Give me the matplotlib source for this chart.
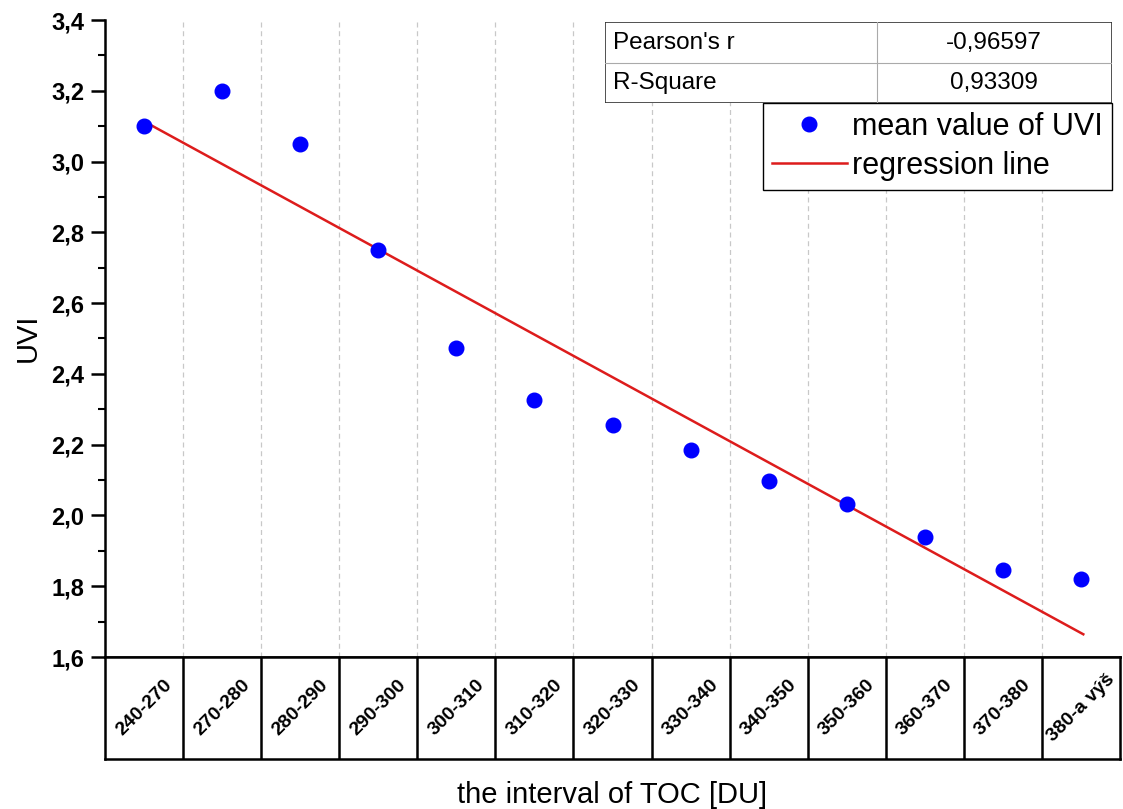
import matplotlib
matplotlib.use("Agg")
import matplotlib.pyplot as plt
import numpy as np

plt.rcParams['font.family'] = ['Liberation Sans', 'DejaVu Sans']

categories = ["240-270", "270-280", "280-290", "290-300", "300-310", "310-320",
              "320-330", "330-340", "340-350", "350-360", "360-370", "370-380",
              "380-a výš"]
uvi_mean = [3.10, 3.20, 3.05, 2.75, 2.473, 2.327, 2.256, 2.185, 2.098, 2.033,
            1.940, 1.846, 1.821]
stats_labels = ["Pearson's r", "R-Square"]
stats_values = ["-0,96597", "0,93309"]
y_ticks = [1.6, 1.8, 2.0, 2.2, 2.4, 2.6, 2.8, 3.0, 3.2, 3.4]

W, H = 1123, 809
fig = plt.figure(figsize=(W / 100, H / 100), dpi=100)

def fx(px):
    return px / W

def fy(py):
    return 1 - py / H

left, right, top, bottom = 105, 1120, 20, 657
ax = fig.add_axes([fx(left), fy(bottom), fx(right - left), fy(top) - fy(bottom)])

x = np.arange(len(categories))
coef = np.polyfit(x, uvi_mean, 1)
xr = np.array([x[0], x[-1] + 0.03])
ax.plot(xr, np.polyval(coef, xr), color='#dd1c1c', lw=1.8, zorder=3, label='regression line')
ax.plot(x, uvi_mean, 'o', color='#0000ff', ms=10.5, zorder=4, label='mean value of UVI')

ax.set_xlim(-0.5, len(categories) - 0.5)
ax.set_ylim(1.6, 3.4)
ax.set_yticks(y_ticks)
ax.set_yticklabels([f"{v:.1f}".replace('.', ',') for v in y_ticks], fontweight='bold', fontsize=17)
ax.set_yticks(np.arange(1.7, 3.4, 0.2), minor=True)
ax.tick_params(axis='y', which='major', direction='out', length=10, width=1.8, pad=5)
ax.tick_params(axis='y', which='minor', direction='out', length=5, width=1.5)
ax.set_xticks([])
for b in np.arange(0.5, len(categories) - 0.5, 1):
    ax.axvline(b, color='#c8c8c8', lw=0.9, ls=(0, (4, 3)), zorder=1)
for s in ['top', 'right']:
    ax.spines[s].set_visible(False)
ax.spines['left'].set_linewidth(1.8)
ax.spines['bottom'].set_linewidth(1.8)
fig.text(fx(28), fy(338), "UVI", fontsize=21, rotation=90, ha='center', va='center')

# Legend
handles, labels = ax.get_legend_handles_labels()
leg = ax.legend([handles[1], handles[0]], [labels[1], labels[0]],
                loc='upper right', bbox_to_anchor=(fx(1112), fy(103)),
                bbox_transform=fig.transFigure, fontsize=22, frameon=True,
                fancybox=False, edgecolor='black', framealpha=1,
                borderaxespad=0, handlelength=2.45, handletextpad=0.18,
                borderpad=0.3, labelspacing=0.28)
leg.get_frame().set_linewidth(1.0)

# Stats table
tab_ax = fig.add_axes([fx(605), fy(103), fx(1112 - 605), fy(22) - fy(103)])
tab_ax.set_xlim(605, 1112)
tab_ax.set_ylim(103, 22)
tab_ax.axis('off')
tab_ax.add_patch(plt.Rectangle((605, 22), 507, 81, fill=True, facecolor='white',
                               edgecolor='#333333', lw=1.2))
tab_ax.plot([605, 1112], [62.5, 62.5], color='#aaaaaa', lw=0.8)
tab_ax.plot([877, 877], [22, 103], color='#aaaaaa', lw=0.8)
for i, (lab, val) in enumerate(zip(stats_labels, stats_values)):
    yc = 43 + i * 40
    tab_ax.text(613, yc, lab, fontsize=17.5, va='center', ha='left')
    tab_ax.text(994, yc, val, fontsize=17.5, va='center', ha='center')

# Category boxes
cat_ax = fig.add_axes([fx(left), fy(759), fx(right - left), fy(bottom) - fy(759)], sharex=ax)
cat_ax.set_ylim(0, 1)
cat_ax.set_xticks([])
cat_ax.set_yticks([])
for s in cat_ax.spines.values():
    s.set_linewidth(1.8)
for b in np.arange(0.5, len(categories) - 0.5, 1):
    cat_ax.axvline(b, color='black', lw=1.8)
for i, c in enumerate(categories):
    cat_ax.text(i, 0.5, c, rotation=45, ha='center', va='center',
                fontsize=14, fontweight='bold', rotation_mode='anchor')

fig.text(fx(612), fy(795), "the interval of TOC [DU]", fontsize=21, ha='center', va='center')

fig.savefig("out.png", dpi=100)
